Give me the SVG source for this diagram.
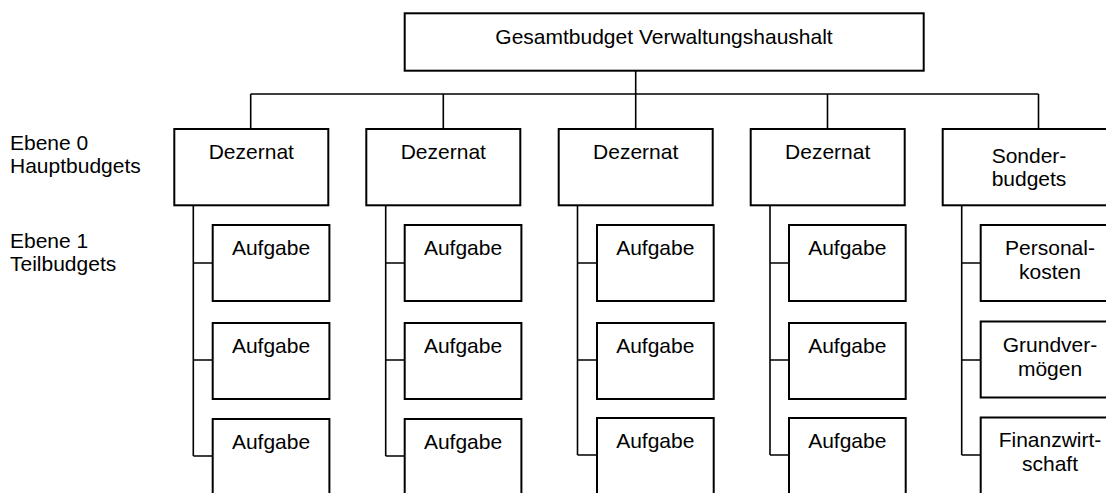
<svg xmlns="http://www.w3.org/2000/svg" width="1106" height="493" viewBox="0 0 1106 493">
<style>
.box{fill:#fff;stroke:#000;stroke-width:2}
.ln{fill:none;stroke:#000;stroke-width:1.6}
text{font-family:"Liberation Sans",Arial,sans-serif;font-size:21px;fill:#000}
.c{text-anchor:middle}
</style>
<rect width="1106" height="493" fill="#fff"/>
<g id="connectors">
<path class="ln" d="M635.7 70.7V94M250.7 94H1038.5M250.7 94V129M443.3 94V129M635.7 94V129M827.5 94V129M1038.5 94V129"/>
<path class="ln" d="M193.3 205.3V456M193.3 263H212.7M193.3 360H212.7M193.3 456H212.7"/>
<path class="ln" d="M385.7 205.3V456M385.7 263H404.7M385.7 360H404.7M385.7 456H404.7"/>
<path class="ln" d="M577.5 205.3V455M577.5 263H597M577.5 360H597M577.5 455H597"/>
<path class="ln" d="M770 205.3V455M770 263H789M770 360H789M770 455H789"/>
<path class="ln" d="M961.7 205.3V455M961.7 263H980.7M961.7 360H980.7M961.7 455H980.7"/>
</g>
<g id="labels">
<text x="10" y="150">Ebene 0</text>
<text x="10" y="173">Hauptbudgets</text>
<text x="10" y="248">Ebene 1</text>
<text x="10" y="271">Teilbudgets</text>
</g>
<g id="root"><rect class="box" x="404.7" y="13.3" width="519" height="57.4"/><text class="c" x="664" y="43.5">Gesamtbudget Verwaltungshaushalt</text></g>
<g id="dez1"><rect class="box" x="174.3" y="129" width="154" height="76.3"/><text class="c" x="251.3" y="159">Dezernat</text></g>
<g id="dez2"><rect class="box" x="366.3" y="129" width="154" height="76.3"/><text class="c" x="443.3" y="159">Dezernat</text></g>
<g id="dez3"><rect class="box" x="558.7" y="129" width="154" height="76.3"/><text class="c" x="635.7" y="159">Dezernat</text></g>
<g id="dez4"><rect class="box" x="750.7" y="129" width="154" height="76.3"/><text class="c" x="827.7" y="159">Dezernat</text></g>
<g id="sonder"><rect class="box" x="942.7" y="129" width="174" height="76.3"/><text class="c" x="1029" y="162.7">Sonder-</text><text class="c" x="1029" y="186">budgets</text></g>
<g id="a11"><rect class="box" x="212.7" y="225" width="116.7" height="76"/><text class="c" x="271" y="255">Aufgabe</text></g>
<g id="a12"><rect class="box" x="212.7" y="323" width="116.7" height="76"/><text class="c" x="271" y="353">Aufgabe</text></g>
<g id="a13"><rect class="box" x="212.7" y="419" width="116.7" height="80"/><text class="c" x="271" y="449">Aufgabe</text></g>
<g id="a21"><rect class="box" x="404.7" y="225" width="116.7" height="76"/><text class="c" x="463" y="255">Aufgabe</text></g>
<g id="a22"><rect class="box" x="404.7" y="323" width="116.7" height="76"/><text class="c" x="463" y="353">Aufgabe</text></g>
<g id="a23"><rect class="box" x="404.7" y="419" width="116.7" height="80"/><text class="c" x="463" y="449">Aufgabe</text></g>
<g id="a31"><rect class="box" x="597" y="225" width="116.7" height="76"/><text class="c" x="655.3" y="255">Aufgabe</text></g>
<g id="a32"><rect class="box" x="597" y="323" width="116.7" height="76"/><text class="c" x="655.3" y="353">Aufgabe</text></g>
<g id="a33"><rect class="box" x="597" y="418" width="116.7" height="80"/><text class="c" x="655.3" y="448">Aufgabe</text></g>
<g id="a41"><rect class="box" x="789" y="225" width="116.7" height="76"/><text class="c" x="847.3" y="255">Aufgabe</text></g>
<g id="a42"><rect class="box" x="789" y="323" width="116.7" height="76"/><text class="c" x="847.3" y="353">Aufgabe</text></g>
<g id="a43"><rect class="box" x="789" y="418" width="116.7" height="80"/><text class="c" x="847.3" y="448">Aufgabe</text></g>
<g id="s1"><rect class="box" x="980.7" y="225" width="140" height="76"/><text class="c" x="1050" y="255">Personal-</text><text class="c" x="1050" y="279">kosten</text></g>
<g id="s2"><rect class="box" x="980.7" y="321.5" width="140" height="76"/><text class="c" x="1050" y="351.7">Grundver-</text><text class="c" x="1050" y="375.7">mögen</text></g>
<g id="s3"><rect class="box" x="980.7" y="417.5" width="140" height="80"/><text class="c" x="1050" y="447.3">Finanzwirt-</text><text class="c" x="1050" y="471">schaft</text></g>
</svg>
